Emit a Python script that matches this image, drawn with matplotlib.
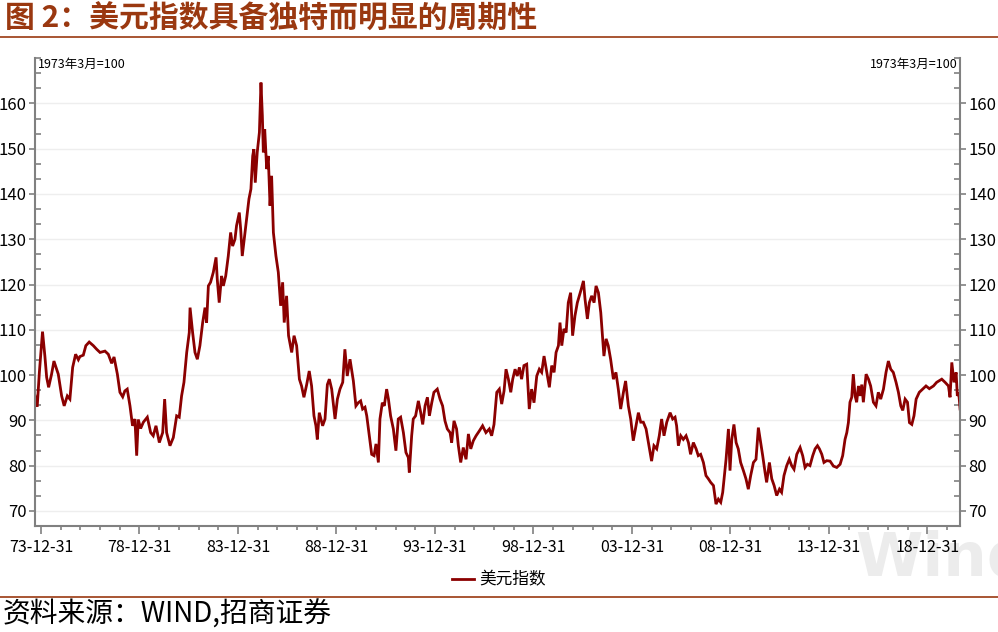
import matplotlib
matplotlib.use("Agg")
import matplotlib.pyplot as plt
from matplotlib.ticker import FixedLocator, MultipleLocator, NullFormatter

# US dollar index (1973-03 = 100)
years = [
    1973.70, 1973.81, 1973.92, 1974.08, 1974.20, 1974.29, 1974.39, 1974.54, 1974.66, 1974.88,
    1975.05, 1975.18, 1975.34, 1975.47, 1975.61, 1975.76, 1975.90, 1975.98, 1976.15, 1976.28,
    1976.45, 1976.66, 1976.83, 1977.00, 1977.25, 1977.42, 1977.59, 1977.71, 1977.88, 1978.01,
    1978.15, 1978.26, 1978.38, 1978.52, 1978.65, 1978.77, 1978.86, 1978.94, 1979.06, 1979.20,
    1979.40, 1979.57, 1979.70, 1979.84, 1980.01, 1980.18, 1980.28, 1980.38, 1980.55, 1980.72,
    1980.89, 1981.02, 1981.14, 1981.26, 1981.40, 1981.53,
    1981.57, 1981.70, 1981.82, 1981.94, 1982.07, 1982.21, 1982.33, 1982.41, 1982.50, 1982.61,
    1982.75, 1982.89, 1982.95, 1983.05, 1983.17, 1983.26, 1983.38, 1983.51, 1983.63, 1983.73,
    1983.85, 1983.93, 1984.07, 1984.14, 1984.22, 1984.32, 1984.44, 1984.56, 1984.66, 1984.75,
    1984.81, 1984.88, 1984.98, 1985.09, 1985.17, 1985.24, 1985.29, 1985.36, 1985.46, 1985.54,
    1985.63, 1985.71, 1985.80, 1985.93, 1986.05, 1986.17, 1986.27, 1986.35, 1986.47, 1986.57,
    1986.73, 1986.85, 1986.98, 1987.12, 1987.23, 1987.35, 1987.49, 1987.62, 1987.74, 1987.86,
    1987.96, 1988.03, 1988.13, 1988.30, 1988.42, 1988.54, 1988.64, 1988.76, 1988.93, 1989.05,
    1989.18, 1989.32, 1989.43, 1989.55, 1989.69,
    1989.86, 1989.99, 1990.11, 1990.23, 1990.33, 1990.45, 1990.54, 1990.67, 1990.79, 1990.91,
    1991.01, 1991.13, 1991.21, 1991.33, 1991.43, 1991.55, 1991.64, 1991.75, 1991.89, 1992.02,
    1992.14, 1992.26, 1992.40, 1992.53, 1992.65, 1992.70, 1992.82, 1992.90, 1993.02, 1993.16,
    1993.28, 1993.38, 1993.50, 1993.62, 1993.72, 1993.84, 1993.95, 1994.12, 1994.26, 1994.39,
    1994.51, 1994.63, 1994.77, 1994.85, 1994.97, 1995.10, 1995.19, 1995.31, 1995.44, 1995.58,
    1995.70, 1995.82, 1995.95, 1996.09, 1996.26, 1996.42, 1996.59, 1996.76, 1996.88, 1997.00,
    1997.14, 1997.27, 1997.39, 1997.51, 1997.61, 1997.73, 1997.85,
    1997.95, 1998.07, 1998.18, 1998.29, 1998.40, 1998.52, 1998.66, 1998.79, 1998.91, 1999.03,
    1999.17, 1999.30, 1999.42, 1999.54, 1999.67, 1999.81, 1999.93, 2000.05, 2000.15, 2000.27,
    2000.35, 2000.44, 2000.55, 2000.66, 2000.77, 2000.89, 2000.99, 2001.11, 2001.23, 2001.33,
    2001.43, 2001.54, 2001.62, 2001.74, 2001.84, 2001.96, 2002.08, 2002.18, 2002.30, 2002.42,
    2002.52, 2002.58, 2002.69, 2002.80, 2002.92, 2003.06, 2003.19, 2003.31, 2003.43, 2003.57,
    2003.68, 2003.82, 2003.94, 2004.07, 2004.21, 2004.33, 2004.45, 2004.58, 2004.72, 2004.84,
    2005.00, 2005.12, 2005.26, 2005.39, 2005.51, 2005.63, 2005.77,
    2005.94, 2006.07, 2006.19, 2006.27, 2006.36, 2006.48, 2006.61, 2006.75, 2006.87, 2006.98,
    2007.12, 2007.26, 2007.37, 2007.49, 2007.63, 2007.76, 2007.88, 2008.00, 2008.14, 2008.27,
    2008.39, 2008.51, 2008.61, 2008.68, 2008.78, 2008.90, 2008.98, 2009.07, 2009.18, 2009.29,
    2009.40, 2009.52, 2009.66, 2009.79, 2009.91, 2010.03, 2010.17, 2010.30, 2010.42, 2010.54,
    2010.64, 2010.76, 2010.84, 2010.98, 2011.10, 2011.22, 2011.35, 2011.49, 2011.60, 2011.72,
    2011.86, 2011.99, 2012.11, 2012.23, 2012.37, 2012.54, 2012.67, 2012.79, 2012.91, 2013.04,
    2013.18, 2013.30, 2013.42, 2013.52, 2013.64, 2013.75, 2013.89,
    2014.06, 2014.23, 2014.40, 2014.57, 2014.70, 2014.82, 2014.91, 2014.99, 2015.07, 2015.16,
    2015.24, 2015.33, 2015.41, 2015.50, 2015.58, 2015.67, 2015.75, 2015.89, 2016.01, 2016.12,
    2016.26, 2016.39, 2016.51, 2016.63, 2016.77, 2016.90, 2017.02, 2017.14, 2017.27, 2017.41,
    2017.53, 2017.65, 2017.75, 2017.87, 2017.99, 2018.09, 2018.21, 2018.32, 2018.43, 2018.59,
    2018.76, 2018.93, 2019.10, 2019.31, 2019.47, 2019.73, 2019.90, 2020.07, 2020.15, 2020.24,
    2020.35, 2020.46, 2020.52, 2020.59, 2020.66,
]
dxy = [
    95.4, 93.0, 100.6, 109.6, 104.2, 99.5, 97.3, 100.2, 103.1, 100.2,
    95.4, 93.2, 95.4, 94.7, 101.7, 104.6, 103.4, 104.1, 104.4, 106.5,
    107.3, 106.5, 105.7, 105.0, 105.3, 104.6, 102.6, 104.0, 100.2, 96.2,
    95.2, 96.5, 96.9, 93.2, 88.8, 90.3, 82.2, 90.2, 88.2, 89.6,
    90.7, 87.3, 86.6, 88.8, 85.1, 87.3, 94.7, 87.3, 84.4, 86.2,
    91.0, 90.7, 95.4, 98.4, 105.0, 109.4,
    114.9, 109.4, 105.0, 103.5, 106.5, 111.6, 114.9, 111.6, 119.7, 120.5,
    122.7, 126.0, 121.2, 116.0, 121.9, 119.7, 121.9, 126.3, 131.5, 128.5,
    130.0, 133.0, 135.9, 132.2, 126.3, 130.0, 134.4, 138.9, 141.1, 148.4,
    149.9, 142.5, 149.2, 153.6, 164.6, 157.3, 149.2, 154.3, 145.5, 148.4,
    137.4, 144.0, 131.5, 126.3, 122.7, 115.3, 120.5, 111.6, 117.5, 108.7,
    105.0, 108.7, 106.5, 99.1, 97.6, 95.1, 97.9, 100.9, 97.6, 91.0,
    88.8, 85.8, 91.7, 88.8, 90.3, 97.9, 99.1, 96.9, 90.3, 94.7,
    96.9, 98.4, 105.7, 99.8, 103.5,
    98.7, 93.2, 93.9, 94.3, 92.5, 92.9, 91.0, 86.6, 82.5, 82.2,
    84.8, 80.7, 90.3, 93.9, 93.2, 96.9, 94.7, 91.0, 88.1, 83.3,
    90.3, 90.7, 87.3, 82.9, 81.8, 78.5, 86.6, 90.3, 91.0, 94.3,
    91.7, 89.1, 93.2, 95.1, 91.0, 93.9, 96.2, 96.9, 94.7, 93.2,
    89.9, 88.1, 87.3, 85.1, 89.9, 88.1, 84.4, 80.7, 84.0, 81.4,
    87.0, 83.7, 85.5, 86.6, 87.7, 88.8, 87.3, 88.1, 86.6, 89.1,
    96.2, 96.9, 93.6, 96.5, 101.3, 99.1, 96.2,
    99.1, 101.3, 99.8, 101.7, 99.1, 102.1, 102.4, 92.5, 96.9, 93.9,
    99.8, 101.3, 100.6, 104.2, 100.9, 97.3, 102.1, 100.6, 105.0, 106.5,
    111.6, 106.5, 110.2, 109.4, 116.0, 118.2, 108.7, 113.1, 116.0, 117.5,
    119.0, 120.8, 116.8, 112.4, 116.0, 117.5, 116.0, 119.7, 118.2, 113.8,
    108.0, 104.2, 108.0, 106.5, 103.5, 99.1, 100.6, 96.9, 92.5, 96.2,
    98.7, 93.2, 90.3, 85.5, 88.8, 91.7, 89.6, 89.6, 88.1, 85.1,
    81.0, 84.4, 83.7, 86.6, 90.3, 86.6, 89.6,
    91.7, 90.3, 90.7, 88.8, 84.4, 86.6, 85.8, 86.6, 85.1, 82.5,
    85.1, 83.7, 82.2, 82.5, 80.7, 77.8, 77.1, 76.3, 75.6, 71.5,
    72.6, 71.9, 74.1, 77.1, 81.4, 88.1, 78.9, 85.8, 89.1, 85.1,
    83.7, 80.7, 78.9, 77.1, 74.8, 77.8, 80.7, 81.4, 88.4, 85.1,
    82.2, 78.5, 76.3, 80.7, 77.1, 75.6, 73.4, 74.8, 74.1, 77.8,
    80.0, 81.4, 80.0, 79.2, 82.5, 84.0, 82.2, 79.6, 80.3, 80.0,
    82.2, 83.7, 84.4, 83.7, 82.5, 80.7, 81.1,
    81.0, 79.9, 79.6, 80.3, 82.2, 85.8, 87.3, 89.5, 94.0, 95.1,
    100.2, 95.4, 94.0, 97.6, 95.4, 97.9, 94.0, 100.2, 99.1, 97.6,
    94.0, 93.2, 96.2, 94.7, 96.9, 100.6, 103.1, 101.3, 100.6, 98.4,
    96.2, 93.2, 92.2, 94.7, 94.0, 89.5, 89.1, 91.0, 94.7, 96.2,
    96.9, 97.6, 97.0, 97.6, 98.4, 99.1, 98.4, 97.6, 95.1, 102.8,
    98.4, 100.6, 95.4, 96.2, 92.5,
]

tick_years = [1974, 1979, 1984, 1989, 1994, 1999, 2004, 2009, 2014, 2019]
tick_labels = ["73-12-31", "78-12-31", "83-12-31", "88-12-31", "93-12-31",
               "98-12-31", "03-12-31", "08-12-31", "13-12-31", "18-12-31"]
y_ticks = [70, 80, 90, 100, 110, 120, 130, 140, 150, 160]

LINE = "#8b0000"
BROWN = "#9a3810"
AXIS = "#808080"
cjk_font = ["Noto Sans CJK SC", "DejaVu Sans"]

fig = plt.figure(figsize=(9.98, 6.32), dpi=100)
ax = fig.add_axes([0.0351, 0.1677, 0.9269, 0.7403])

ax.plot(years, dxy, color=LINE, lw=2.0, solid_joinstyle="miter")

ax.set_xlim(1973.70, 2020.66)
ax.set_ylim(200 / 3, 170)

ax.xaxis.set_major_locator(FixedLocator(tick_years))
ax.set_xticklabels(tick_labels, family=cjk_font, fontsize=11.5)
ax.xaxis.set_minor_locator(MultipleLocator(1))
ax.tick_params(axis="x", which="major", direction="out", length=6, width=1.2, color=AXIS, pad=3)
ax.tick_params(axis="x", which="minor", direction="out", length=3, width=1.2, color=AXIS)

ax.set_yticks(y_ticks)
ax.set_yticklabels([str(v) for v in y_ticks], family=cjk_font, fontsize=12)
ax.yaxis.set_minor_locator(MultipleLocator(10 / 3))
ax.yaxis.set_minor_formatter(NullFormatter())
ax.tick_params(axis="y", which="major", direction="out", length=4, width=1.2, color=AXIS,
               left=True, right=True, labelleft=True, labelright=True, pad=2)
ax.tick_params(axis="y", which="minor", direction="in", length=4, width=1.2, color=AXIS,
               left=True, right=True)

ax.grid(axis="y", which="major", color="#eeeeee", lw=1)
ax.set_axisbelow(True)

for side in ["left", "right", "bottom"]:
    ax.spines[side].set_color(AXIS)
    ax.spines[side].set_linewidth(1.5)
ax.spines["top"].set_visible(False)

ax.text(0.003, 1.0, "1973年3月=100", transform=ax.transAxes, ha="left", va="top",
        family=cjk_font, fontsize=9)
ax.text(0.997, 1.0, "1973年3月=100", transform=ax.transAxes, ha="right", va="top",
        family=cjk_font, fontsize=9)

# title, rules and footer
fig.text(0.005, 0.971, "图 2：美元指数具备独特而明显的周期性", ha="left", va="center",
         family=cjk_font, fontsize=21.5, fontweight="bold", color=BROWN)
fig.add_artist(plt.Line2D([0, 1], [0.941, 0.941], color=BROWN, lw=1.2))
fig.add_artist(plt.Line2D([0, 1], [0.055, 0.055], color=BROWN, lw=1.2))
fig.text(0.003, 0.027, "资料来源：WIND,招商证券", ha="left", va="center",
         family=cjk_font, fontsize=20, color="black")

# faint vendor watermark behind the axis labels
fig.text(0.857, 0.068, "Wind", ha="left", va="bottom", fontsize=44, fontweight="bold",
         color="#ececec", zorder=-1)

fig.legend(handles=ax.lines, labels=["美元指数"], loc="center", bbox_to_anchor=(0.5, 0.082),
           frameon=False, prop={"family": cjk_font, "size": 12}, handlelength=1.3,
           handletextpad=0.3)

fig.savefig("out.png", dpi=100)
